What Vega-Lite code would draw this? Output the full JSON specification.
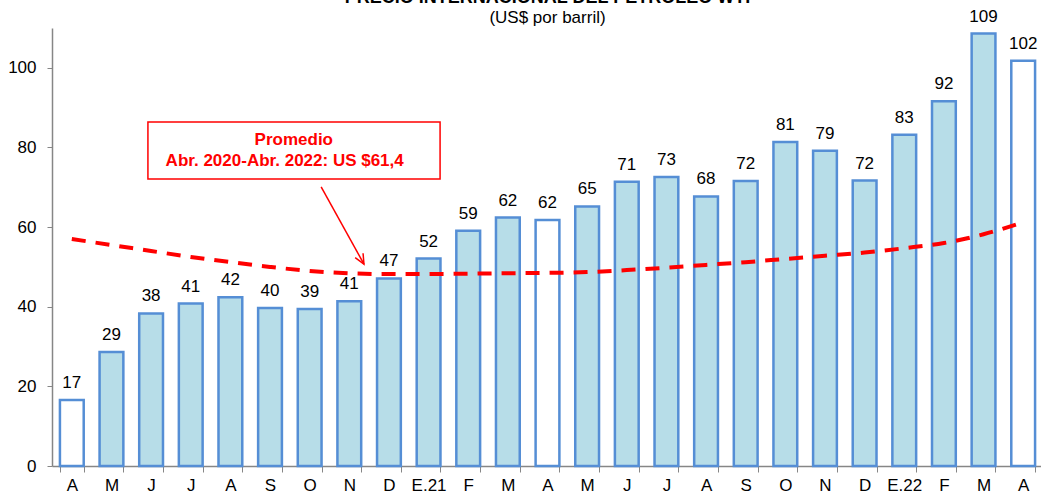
{
  "$schema": "https://vega.github.io/schema/vega-lite/v6.json",
  "width": 991,
  "height": 438,
  "autosize": {"type": "none"},
  "padding": {"left": 52, "top": 28, "right": 0, "bottom": 29},
  "background": "white",
  "title": {
    "text": "PRECIO INTERNACIONAL DEL PETRÓLEO WTI",
    "subtitle": "(US$ por barril)",
    "anchor": "middle",
    "frame": "group",
    "font": "Arial, Liberation Sans",
    "fontSize": 18,
    "fontWeight": "bold",
    "color": "black",
    "subtitleFont": "Arial, Liberation Sans",
    "subtitleFontSize": 17,
    "subtitleColor": "black",
    "subtitlePadding": 3,
    "offset": -18
  },
  "config": {"view": {"stroke": null}, "font": "Arial, Liberation Sans"},
  "datasets": {
    "precios": [
      {"i": 0, "p": 16.6, "tend": 57.0, "tipo": "abril"},
      {"i": 1, "p": 28.6, "tend": 55.5, "tipo": "otro"},
      {"i": 2, "p": 38.3, "tend": 54.0, "tipo": "otro"},
      {"i": 3, "p": 40.8, "tend": 52.5, "tipo": "otro"},
      {"i": 4, "p": 42.4, "tend": 51.2, "tipo": "otro"},
      {"i": 5, "p": 39.7, "tend": 50.0, "tipo": "otro"},
      {"i": 6, "p": 39.4, "tend": 49.0, "tipo": "otro"},
      {"i": 7, "p": 41.4, "tend": 48.4, "tipo": "otro"},
      {"i": 8, "p": 47.1, "tend": 48.2, "tipo": "otro"},
      {"i": 9, "p": 52.1, "tend": 48.2, "tipo": "otro"},
      {"i": 10, "p": 59.1, "tend": 48.3, "tipo": "otro"},
      {"i": 11, "p": 62.4, "tend": 48.4, "tipo": "otro"},
      {"i": 12, "p": 61.8, "tend": 48.5, "tipo": "abril"},
      {"i": 13, "p": 65.2, "tend": 48.7, "tipo": "otro"},
      {"i": 14, "p": 71.4, "tend": 49.2, "tipo": "otro"},
      {"i": 15, "p": 72.6, "tend": 49.8, "tipo": "otro"},
      {"i": 16, "p": 67.7, "tend": 50.5, "tipo": "otro"},
      {"i": 17, "p": 71.6, "tend": 51.2, "tipo": "otro"},
      {"i": 18, "p": 81.4, "tend": 52.0, "tipo": "otro"},
      {"i": 19, "p": 79.2, "tend": 52.8, "tipo": "otro"},
      {"i": 20, "p": 71.7, "tend": 53.6, "tipo": "otro"},
      {"i": 21, "p": 83.2, "tend": 54.7, "tipo": "otro"},
      {"i": 22, "p": 91.6, "tend": 56.0, "tipo": "otro"},
      {"i": 23, "p": 108.6, "tend": 58.2, "tipo": "otro"},
      {"i": 24, "p": 101.8, "tend": 61.2, "tipo": "abril"}
    ],
    "caja": [{"x0": 2.42, "x1": 9.79, "y0": 72.1, "y1": 86.4}],
    "textos": [
      {"tx": 6.10, "ty": 81.9, "t": "Promedio"},
      {"tx": 5.87, "ty": 76.7, "t": "Abr. 2020-Abr. 2022: US $61,4"}
    ],
    "flecha": [{"ax0": 6.79, "ay0": 70.1, "ax1": 7.87, "ay1": 50.7}]
  },
  "layer": [
    {
      "layer": [
        {
          "data": {"name": "precios"},
          "mark": {"type": "bar", "stroke": "#558ED5", "strokeWidth": 2.5},
          "encoding": {
            "x": {
              "field": "i",
              "type": "ordinal",
              "scale": {"paddingInner": 0.4, "paddingOuter": 0.2},
              "axis": {
                "title": null,
                "orient": "bottom",
                "labelAngle": 0,
                "labelExpr": "['A','M','J','J','A','S','O','N','D','E.21','F','M','A','M','J','J','A','S','O','N','D','E.22','F','M','A'][datum.value]",
                "labelFontSize": 17,
                "labelColor": "black",
                "labelFont": "Arial, Liberation Sans",
                "labelPadding": 5,
                "tickBand": "extent",
                "tickSize": 6,
                "tickColor": "#868686",
                "domainColor": "#868686",
                "domainWidth": 1.5,
                "grid": false
              }
            },
            "y": {
              "field": "p",
              "type": "quantitative",
              "scale": {"domain": [0, 110], "nice": false},
              "axis": {
                "title": null,
                "values": [0, 20, 40, 60, 80, 100],
                "grid": false,
                "labelFontSize": 17,
                "labelColor": "black",
                "labelFont": "Arial, Liberation Sans",
                "labelPadding": 11,
                "tickSize": 5,
                "tickColor": "#868686",
                "domainColor": "#868686",
                "domainWidth": 1.5
              }
            },
            "fill": {
              "field": "tipo",
              "type": "nominal",
              "scale": {"domain": ["abril", "otro"], "range": ["#FFFFFF", "#B7DDE8"]},
              "legend": null
            }
          }
        },
        {
          "data": {"name": "precios"},
          "mark": {"type": "text", "baseline": "alphabetic", "dy": -12, "fontSize": 17, "color": "black", "font": "Arial, Liberation Sans"},
          "encoding": {
            "x": {"field": "i", "type": "ordinal"},
            "y": {"field": "p", "type": "quantitative"},
            "text": {"field": "p", "type": "quantitative", "format": ".0f"}
          }
        },
        {
          "data": {"name": "precios"},
          "mark": {"type": "line", "color": "#FF0000", "strokeWidth": 4, "strokeDash": [14, 10], "interpolate": "monotone"},
          "encoding": {
            "x": {"field": "i", "type": "ordinal"},
            "y": {"field": "tend", "type": "quantitative"}
          }
        }
      ]
    },
    {
      "layer": [
        {
          "data": {"name": "caja"},
          "mark": {"type": "rect", "fill": "white", "stroke": "#FF0000", "strokeWidth": 1.5},
          "encoding": {
            "x": {"field": "x0", "type": "quantitative", "scale": {"domain": [0, 25], "nice": false, "zero": false}, "axis": null},
            "x2": {"field": "x1"},
            "y": {"field": "y0", "type": "quantitative"},
            "y2": {"field": "y1"}
          }
        },
        {
          "data": {"name": "textos"},
          "mark": {"type": "text", "color": "#FF0000", "fontWeight": "bold", "fontSize": 17, "baseline": "middle", "align": "center", "font": "Arial, Liberation Sans"},
          "encoding": {
            "x": {"field": "tx", "type": "quantitative", "axis": null},
            "y": {"field": "ty", "type": "quantitative"},
            "text": {"field": "t"}
          }
        },
        {
          "data": {"name": "flecha"},
          "mark": {"type": "rule", "color": "#FF0000", "strokeWidth": 1.5},
          "encoding": {
            "x": {"field": "ax0", "type": "quantitative", "axis": null},
            "x2": {"field": "ax1"},
            "y": {"field": "ay0", "type": "quantitative"},
            "y2": {"field": "ay1"}
          }
        },
        {
          "data": {"name": "flecha"},
          "mark": {"type": "point", "shape": "M-0.45,1L0,0L0.45,1", "size": 400, "filled": false, "stroke": "#FF0000", "strokeWidth": 1.5, "angle": 151, "opacity": 1},
          "encoding": {
            "x": {"field": "ax1", "type": "quantitative", "axis": null},
            "y": {"field": "ay1", "type": "quantitative"}
          }
        }
      ]
    }
  ],
  "resolve": {"scale": {"x": "independent"}}
}
